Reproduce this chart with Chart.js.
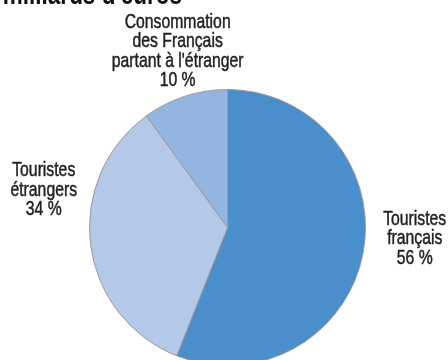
<!DOCTYPE html>
<html>
<head>
<meta charset="utf-8">
<script src="https://cdn.jsdelivr.net/npm/chart.js@4"></script>
<style>
  html, body { margin: 0; padding: 0; background: #fff; overflow: hidden; }
  #wrap { position: relative; width: 448px; height: 370px; }
</style>
</head>
<body>
<div id="wrap"><canvas id="pie"></canvas></div>
<script>
// parts of tourism consumption, in %
const labels = [
  ['Touristes', 'français'],
  ['Touristes', 'étrangers'],
  ['Consommation', 'des Français', "partant à l'étranger"],
];
const values = [56, 34, 10];
const colors = ['#4a8fcc', '#b4c9e8', '#94b5df'];

const FONT = "'Liberation Sans', Arial, sans-serif";
const SQUEEZE = 0.75; // fake a condensed face

// per-label nudges (px) from the anchor on the slice's mid-angle
const nudges = [[32, -32], [-27, -71], [-1, -49]];

function condensedText(ctx, t, x, y, stroke) {
  ctx.save();
  ctx.translate(x, y);
  ctx.scale(SQUEEZE, 1);
  ctx.fillText(t, 0, 0);
  if (stroke) ctx.strokeText(t, 0, 0);
  ctx.restore();
}

const sliceLabels = {
  id: 'sliceLabels',
  afterDraw(chart) {
    const ctx = chart.ctx;
    const arcs = chart.getDatasetMeta(0).data;
    ctx.save();
    ctx.fillStyle = '#222';
    ctx.strokeStyle = '#222';
    ctx.lineWidth = 0.5;
    ctx.font = '21px ' + FONT;
    ctx.textAlign = 'center';
    ctx.textBaseline = 'alphabetic';
    arcs.forEach((arc, i) => {
      const mid = (arc.startAngle + arc.endAngle) / 2;
      const r = arc.outerRadius + 20;
      const x = arc.x + Math.cos(mid) * r + nudges[i][0];
      const y = arc.y + Math.sin(mid) * r + nudges[i][1];
      const lines = labels[i].concat([values[i] + ' %']);
      lines.forEach((t, k) => condensedText(ctx, t, x, y + k * 19.2, true));
    });
    // title, cut off by the top edge
    ctx.font = 'bold 30px ' + FONT;
    ctx.textAlign = 'right';
    ctx.fillStyle = '#111';
    condensedText(ctx, "milliards d'euros", 182, 4, false);
    ctx.restore();
  }
};

new Chart(document.getElementById('pie'), {
  type: 'pie',
  data: {
    labels: labels.map(l => l.join(' ')),
    datasets: [{
      data: values,
      backgroundColor: colors,
      borderColor: '#9a9a9a',
      borderWidth: 1,
    }],
  },
  options: {
    responsive: true,
    maintainAspectRatio: false,
    animation: false,
    layout: { padding: { top: 89, bottom: 4, left: 89, right: 82 } },
    plugins: {
      legend: { display: false },
      tooltip: { enabled: false },
    },
  },
  plugins: [sliceLabels],
});
</script>
</body>
</html>
